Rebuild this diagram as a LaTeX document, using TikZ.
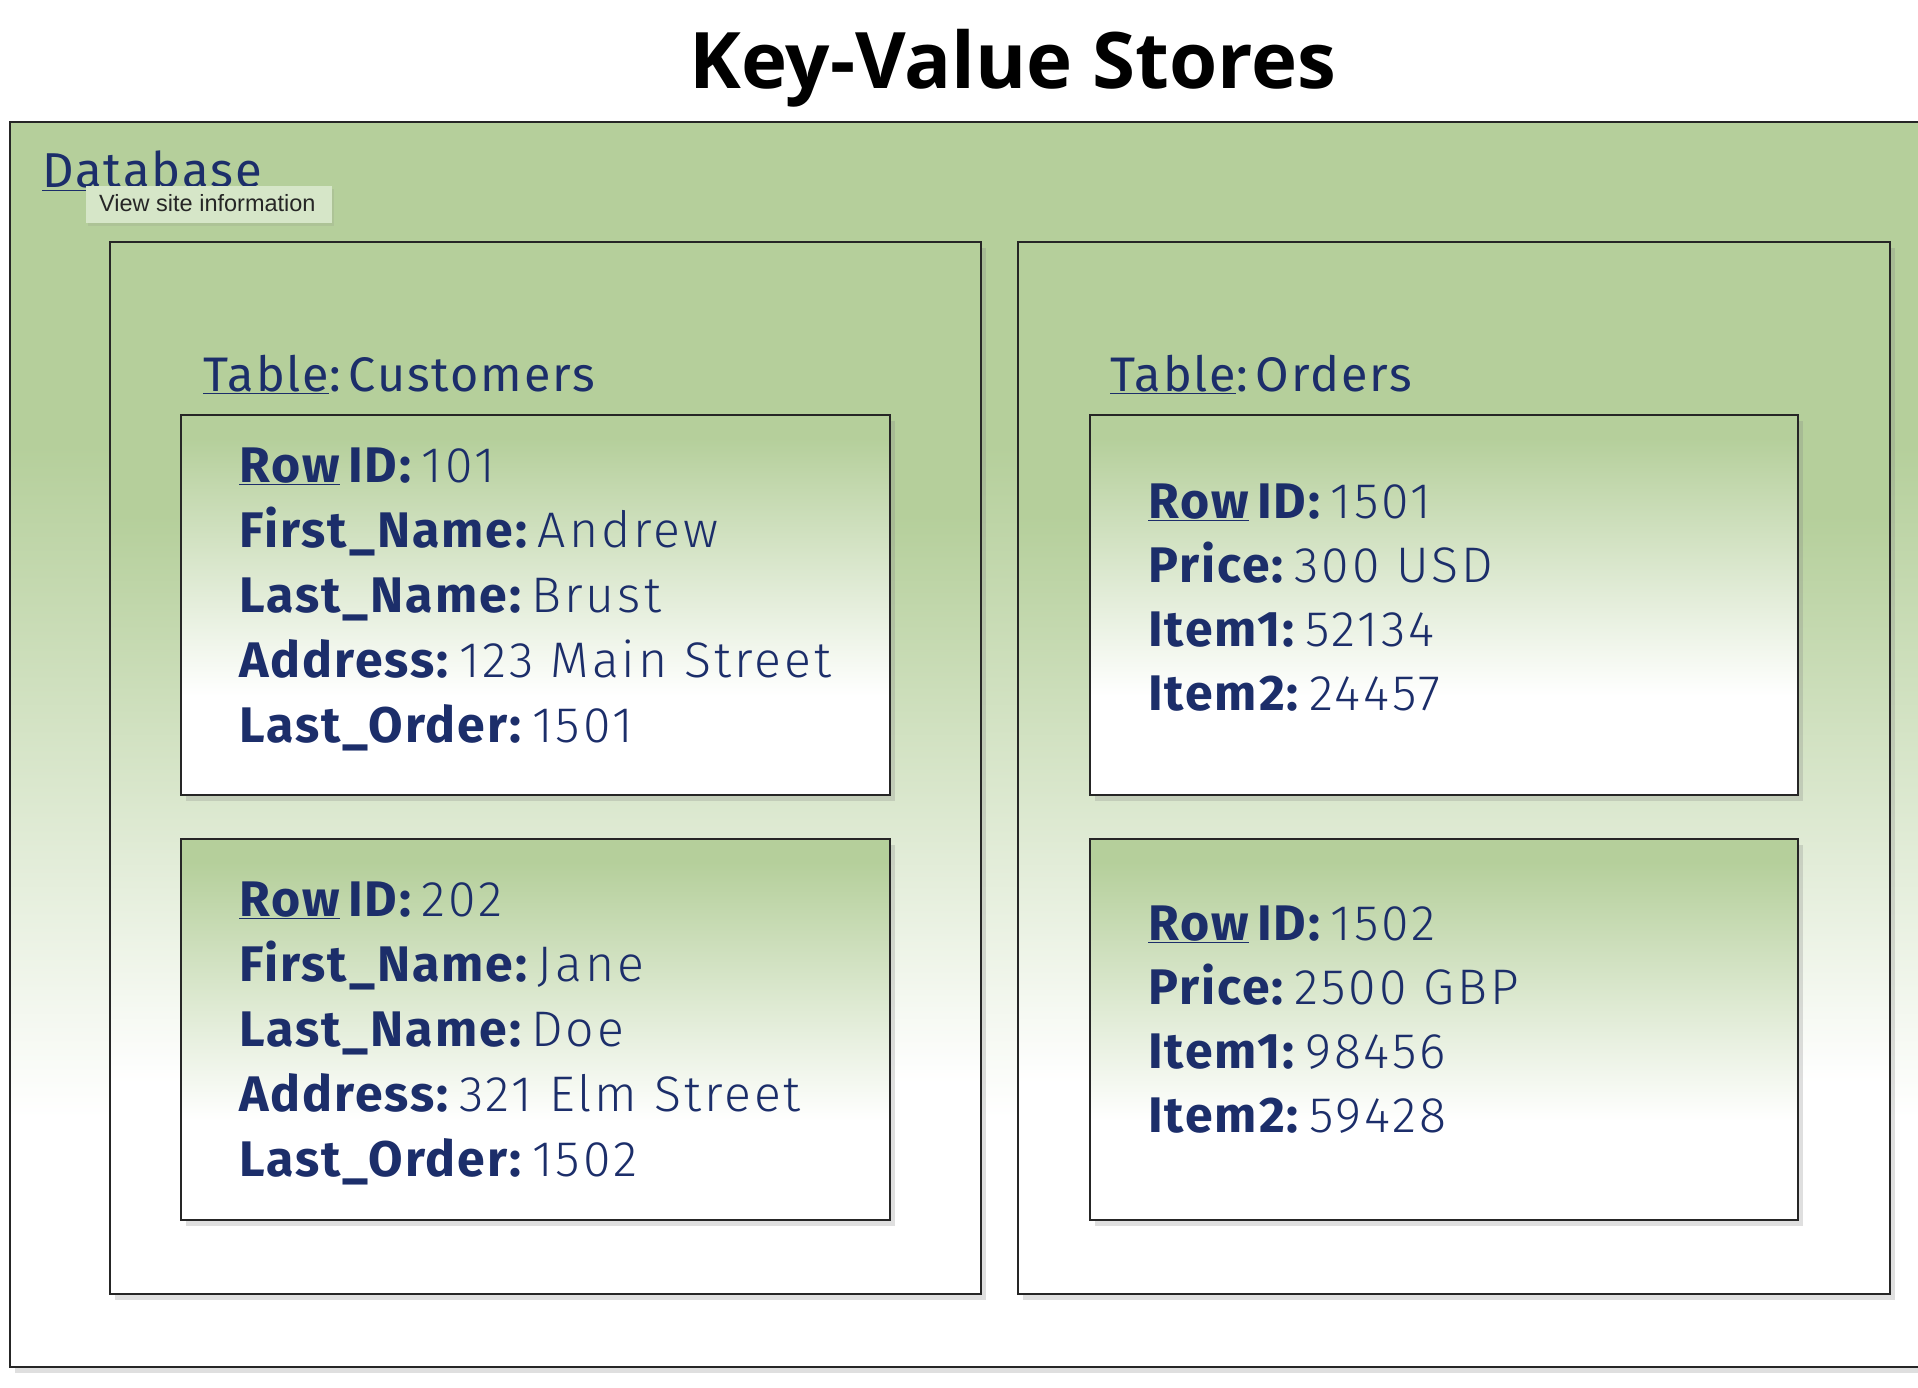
\documentclass[tikz,border=0pt]{standalone}
\usepackage{fontspec}
\setmainfont{Fira Sans}[LetterSpace=4]
\newfontfamily\titlefont{Open Sans}
\newfontfamily\valfont{Fira Sans Light}[LetterSpace=6]
\newfontfamily\tipfont{Liberation Sans}
\usetikzlibrary{shadows}
\definecolor{kvgreen}{HTML}{B5CF9B}
\definecolor{kvblue}{HTML}{1C2E6A}
\definecolor{tipgreen}{HTML}{D6E6C8}
\pgfdeclareverticalshading{dbfade}{100bp}{color(0bp)=(white); color(35bp)=(white); color(62bp)=(kvgreen); color(100bp)=(kvgreen)}
\pgfdeclareverticalshading{rowfade}{100bp}{color(0bp)=(white); color(38bp)=(white); color(72bp)=(kvgreen); color(100bp)=(kvgreen)}
\newcommand\kvpair[2]{\textbf{#1:}\,{\valfont #2}}
\newcommand\kvrowid[1]{\textbf{\underline{Row}\,ID:}\,{\valfont #1}}
\tikzset{
  dbbox/.style={rectangle, inner sep=0pt, draw=black!85, line width=2pt, shading=dbfade,
    drop shadow={opacity=0.25, shadow xshift=5pt, shadow yshift=-6pt}},
  rowbox/.style={dbbox, shading=rowfade},
  field/.style={anchor=base west, inner sep=0pt, text=kvblue, font=\fontsize{50}{60}\selectfont},
  tablelabel/.style={field, font=\fontsize{48.5}{58}\selectfont},
}
\begin{document}
\begin{tikzpicture}[x=1pt, y=-1pt]
  \useasboundingbox (0,0) rectangle (1918,1388);
  \fill[white] (0,0) rectangle (1918,1388); %fond
  \node[anchor=base, inner sep=0pt, font=\titlefont\bfseries\fontsize{78}{90}\selectfont] (title) at (1013,89) {Key-Value Stores};

  \node[dbbox, minimum width=1915, minimum height=1245] (db) at (967.5,744.5) {}; %base
  \node[tablelabel, font=\fontsize{49}{58}\selectfont] (dblabel) at (42,188) {\underline{Database}};

  \node[dbbox, minimum width=871, minimum height=1052] (customers) at (545.5,768) {}; %table clients
  \node[dbbox, minimum width=872, minimum height=1052] (orders) at (1454,768) {}; %table commandes
  \node[tablelabel] (customerslabel) at (203,391) {\underline{Table}:\,Customers};
  \node[tablelabel] (orderslabel) at (1110,391) {\underline{Table}:\,Orders};

  \node[rowbox, minimum width=709, minimum height=380] (c1) at (535.5,605) {}; %ligne 101
  \node[rowbox, minimum width=709, minimum height=381] (c2) at (535.5,1029.5) {}; %ligne 202
  \node[rowbox, minimum width=708, minimum height=380] (o1) at (1444,605) {}; %ligne 1501
  \node[rowbox, minimum width=708, minimum height=381] (o2) at (1444,1029.5) {}; %ligne 1502

  \node[field] (c1id) at (239,482) {\kvrowid{101}};
  \node[field] (c1first) at (239,547) {\kvpair{First\_Name}{Andrew}};
  \node[field] (c1last) at (239,612) {\kvpair{Last\_Name}{Brust}};
  \node[field] (c1addr) at (239,677) {\kvpair{Address}{123 Main Street}};
  \node[field] (c1order) at (239,742) {\kvpair{Last\_Order}{1501}};

  \node[field] (c2id) at (239,916) {\kvrowid{202}};
  \node[field] (c2first) at (239,981) {\kvpair{First\_Name}{Jane}};
  \node[field] (c2last) at (239,1046) {\kvpair{Last\_Name}{Doe}};
  \node[field] (c2addr) at (239,1111) {\kvpair{Address}{321 Elm Street}};
  \node[field] (c2order) at (239,1176) {\kvpair{Last\_Order}{1502}};

  \node[field] (o1id) at (1148,518) {\kvrowid{1501}};
  \node[field] (o1price) at (1148,582) {\kvpair{Price}{300 USD}};
  \node[field] (o1item1) at (1148,646) {\kvpair{Item1}{52134}};
  \node[field] (o1item2) at (1148,710) {\kvpair{Item2}{24457}};

  \node[field] (o2id) at (1148,940) {\kvrowid{1502}};
  \node[field] (o2price) at (1148,1004) {\kvpair{Price}{2500 GBP}};
  \node[field] (o2item1) at (1148,1068) {\kvpair{Item1}{98456}};
  \node[field] (o2item2) at (1148,1132) {\kvpair{Item2}{59428}};

  \node[anchor=north west, inner sep=0pt, fill=tipgreen, minimum width=246, minimum height=37,
    drop shadow={opacity=0.15, shadow xshift=2pt, shadow yshift=-3pt}] (tip) at (86,186) {}; %bulle
  \node[anchor=base west, inner sep=0pt, text=black!85, font=\tipfont\fontsize{23.5}{28}\selectfont] (tiptext) at (99,212) {View site information};
\end{tikzpicture}
\end{document}
